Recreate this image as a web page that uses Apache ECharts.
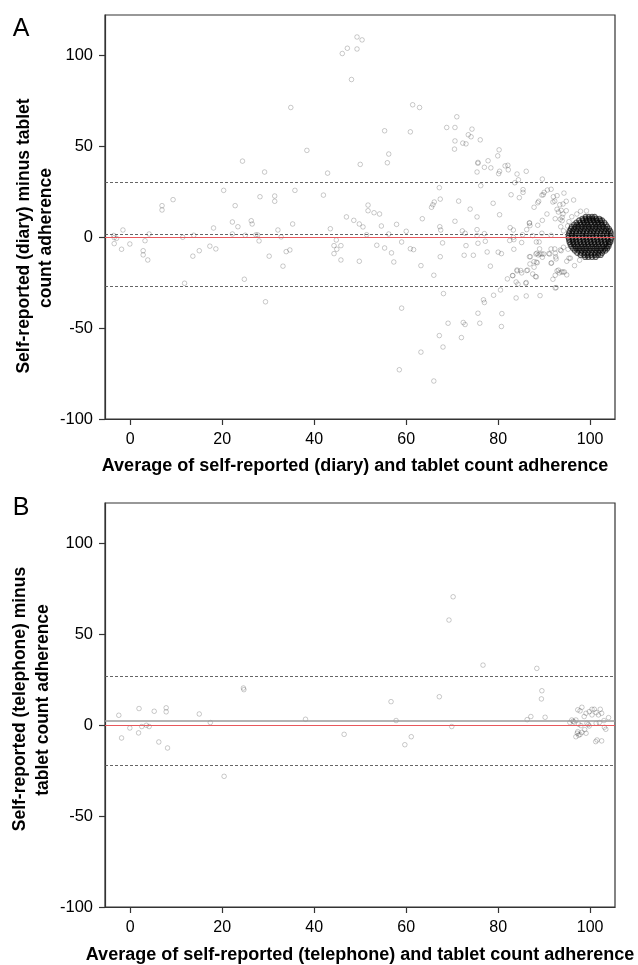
<!DOCTYPE html>
<html>
<head>
<meta charset="utf-8">
<script src="https://cdn.jsdelivr.net/npm/echarts@6/dist/echarts.min.js"></script>
<style>
html,body{margin:0;padding:0;background:#fff;}
#chart{width:638px;height:965px;}
</style>
</head>
<body>
<div id="chart"></div>
<script>
// ---------- DATA ----------
const xTicks = [0, 20, 40, 60, 80, 100];
const yTicks = [-100, -50, 0, 50, 100];

// Panel A: self-reported (diary) vs tablet count, scattered points [average, difference]
const diaryPoints = [
[-3.6,1.0],[-3.5,-0.2],[-1.6,4.0],[-3.5,-3.5],[-3.0,-0.6],[-1.9,-6.6],[-0.1,-3.7],[2.8,-7.4],[2.8,-9.7],[3.8,-12.5],
[3.2,-1.9],[4.1,1.8],[6.9,17.4],[6.9,15.0],[9.3,20.7],[11.4,0],[11.8,-25.3],[13.6,-10.4],[13.8,1.1],[15.0,-7.4],
[17.3,-4.9],[18.1,5.1],[18.6,-6.4],[20.3,25.8],[22.2,8.4],[22.2,1.8],[22.8,17.4],[23.4,5.8],[24.4,41.9],[24.8,-23.1],
[25.0,1.1],[26.3,9.1],[26.5,7.3],[27.3,1.3],[27.7,1.3],[28.0,-2.0],[28.2,22.3],[29.2,35.9],[29.4,-35.5],[30.2,-10.4],
[31.4,22.7],[31.4,19.8],[32.1,4.0],[32.8,0.2],[33.2,-15.9],[33.9,-7.9],[34.7,-7.0],[34.9,71.4],[35.3,7.3],[35.8,25.8],
[38.4,47.8],[42.0,23.2],[42.9,35.3],[43.5,4.7],[44.3,-4.6],[44.9,-6.6],[45.8,-4.6],[44.3,-9.0],[45.8,-12.5],[44.8,-1.5],
[46.1,101.1],[47.2,104.0],[49.3,103.6],[49.3,110.2],[50.4,108.6],[48.1,86.8],[47.0,11.2],[48.6,9.3],[49.8,7.3],[50.6,5.7],
[49.8,-13.2],[50.0,40.1],[51.4,1.4],[51.7,17.7],[51.7,14.6],[53.0,13.5],[54.2,12.8],[53.6,-4.4],[55.3,-5.9],[54.6,6.2],
[55.3,58.6],[55.9,41.0],[56.2,45.8],[56.2,1.8],[56.8,-8.6],[57.3,-13.6],[57.9,7.1],[58.5,-72.9],[59.0,-2.6],[59.0,-39.0],
[60.0,3.3],[60.9,58.0],[60.9,-6.3],[61.6,-6.8],[61.4,72.9],[62.9,71.4],[63.2,-15.6],[63.2,-63.2],[63.5,10.2],
[65.5,16.5],[65.8,17.9],[66.1,19.4],[66.0,-20.9],[66.0,-79.1],[67.2,27.3],[67.4,21.0],[67.3,5.8],[67.5,4.0],[67.9,-3.1],
[67.4,-10.7],[67.2,-54.1],[68.0,-60.4],[68.1,-31.0],[68.8,60.4],[69.1,-47.3],[70.5,48.5],[70.6,53.0],[70.6,60.4],[71.0,66.3],
[70.6,8.8],[71.4,19.9],[72.0,-55.2],[72.2,3.5],[72.8,2.2],[72.3,51.8],[73.0,51.4],[72.4,-46.9],[72.8,-48.0],[72.6,-9.9],
[73.0,-4.6],[73.5,56.4],[74.1,55.3],[74.3,59.5],[73.9,15.5],[74.6,-9.9],[75.4,35.9],[75.4,11.2],[75.4,4.2],[75.4,0.9],
[75.6,-3.3],[75.6,41.2],[75.6,40.7],[75.6,-41.8],[76.0,-47.3],[76.1,53.6],[76.2,28.4],[76.8,-34.4],[77.0,-35.9],[77.0,38.5],
[77.0,2.0],[77.2,-2.2],[77.6,-8.1],[77.8,42.1],[78.3,-15.9],[78.4,38.2],[78.9,18.7],[79.0,-31.9],[79.9,44.8],
[80.2,48.1],[80.3,36.3],[80.1,35.0],[80.3,12.4],[80.0,-8.2],[80.7,-9.0],[80.5,-29.0],[80.8,-42.0],[80.7,-49.1],[81.5,39.3],
[82.1,39.6],[82.2,37.1],[82.8,23.4],[82.6,5.3],[82.5,-1.8],[82.0,-22.9],[83.1,-21.1],[83.3,4.0],[83.3,0.0],[83.4,-1.3],
[83.4,-6.6],[83.6,30.0],[83.9,-24.6],[84.3,-25.8],[83.9,-33.4],[84.1,34.8],[84.1,-18.5],[84.9,-18.3],[85.1,-19.6],[84.4,31.6],
[84.6,21.8],[85.1,-2.9],[85.3,1.4],[85.4,26.2],[85.4,24.7],[86.1,36.3],[86.2,4.2],[86.2,-18.3],[86.1,-24.9],[86.1,-32.3],
[86.8,7.7],[86.9,6.4],[86.8,-10.7],[86.9,-14.7],[87.5,-20.2],[87.5,0.9],[87.8,16.5],[87.8,-16.5],[88.1,-21.6],[88.3,-21.8],
[88.3,-13.7],[88.5,-14.0],[88.2,-9.2],[88.7,-9.7],[89.1,-9.2],[88.3,-2.6],[88.9,-2.6],[89.0,-6.4],[88.6,6.6],[88.6,19.0],
[88.8,19.8],[89.1,-32.1],[89.5,23.2],[89.5,2.2],[89.6,32.0],[89.6,9.3],[89.6,-11.0],[89.9,-9.2],[90.0,24.7],[90.6,12.8],
[90.7,26.0],[91.0,-9.0],[91.5,26.4],[91.5,1.1],[91.5,-6.4],[91.5,-14.3],[91.9,19.4],[91.9,-23.1],[92.0,22.3],[92.3,-6.4],
[92.4,10.2],[92.4,-8.8],[92.5,-10.8],[92.4,-27.9],[92.4,-20.9],[92.8,15.4],[92.8,22.9],[92.8,-18.5],[93.1,13.9],[93.3,-19.6],
[93.4,17.9],[93.6,5.8],[93.7,-7.4],[93.8,-19.1],[93.9,9.1],[94.1,18.3],[94.1,12.8],[94.1,-19.1],[94.2,3.5],[94.2,-5.5],
[94.3,24.3],[94.8,19.8],[94.8,14.6],[94.9,-20.7],[94.9,-13.2],[95.1,6.2],[95.2,-6.6],[95.4,8.6],[95.4,-11.5],[95.7,-11.5],
[96.0,11.3],[96.4,20.5],[96.6,-15.6],[97.1,12.8],[97.7,-12.6],[97.9,14.3],[99.2,14.5],[86.8,8.0],[87.0,-10.7],[87.8,-13.4],
[84.1,-18.0],[88.4,-8.8],[89.5,-9.2],[91.2,-9.2],[91.6,-14.1],[92.6,-11.9],[93.5,-7.0],[86.4,-18.1],[86.0,-25.3],[93.1,-18.1],
[94.4,-19.1],[92.6,-27.7],[83.2,-21.1],[93.5,9.9],[93.9,11.0],[93.7,14.8],[89.8,23.4],[92.3,19.9]
];

// Panel A: the dense pile of points near (100, 0), per row [difference, averages...]
const diaryClusterRows = [
[11.2,[99.0,99.7,100.4,101.0]],
[10.2,[98.3,99.0,99.8,100.5,101.3,102.0]],
[9.3,[97.6,98.4,99.2,99.9,100.7,101.4,102.2,102.6]],
[8.1,[97.0,97.8,98.6,99.3,100.1,100.9,101.6,102.4,103.1]],
[7.0,[96.5,97.2,98.0,98.8,99.5,100.3,101.1,101.8,102.6,103.4]],
[5.8,[96.0,96.8,97.5,98.3,99.1,99.8,100.6,101.4,102.1,102.9,103.7]],
[4.6,[95.8,96.5,97.3,98.0,98.8,99.6,100.3,101.1,101.9,102.6,103.4,104.1]],
[3.4,[95.5,96.2,97.0,97.8,98.5,99.3,100.1,100.8,101.6,102.4,103.1,103.9,104.4]],
[2.2,[95.4,96.1,96.9,97.6,98.4,99.2,99.9,100.7,101.4,102.2,103.0,103.7,104.5]],
[1.0,[95.3,96.0,96.7,97.5,98.3,99.0,99.8,100.5,101.3,102.1,102.8,103.6,104.4]],
[-0.2,[95.3,96.1,96.8,97.6,98.4,99.1,99.9,100.6,101.4,102.2,102.9,103.7,104.6]],
[-1.4,[95.4,96.2,96.9,97.7,98.5,99.2,100.0,100.8,101.5,102.3,103.1,103.8,104.5]],
[-2.6,[95.5,96.3,97.0,97.8,98.6,99.4,100.1,100.9,101.7,102.4,103.2,104.0,104.4]],
[-3.8,[95.7,96.4,97.2,98.0,98.7,99.5,100.3,101.0,101.8,102.6,103.3,104.1]],
[-5.0,[95.9,96.7,97.4,98.2,99.0,99.7,100.5,101.3,102.0,102.8,103.6,104.0]],
[-6.2,[96.3,97.0,97.8,98.6,99.3,100.1,100.9,101.6,102.4,103.2,103.7]],
[-7.4,[96.7,97.5,98.2,99.0,99.8,100.5,101.3,102.1,102.8,103.3]],
[-8.6,[97.2,98.0,98.8,99.5,100.3,101.1,101.8,102.6]],
[-9.8,[97.9,98.7,99.4,100.2,101.0,101.7,102.3]],
[-10.9,[98.9,99.6,100.4,101.2]]
];

// Panel A limits: upper limit, mean difference, lower limit
const diaryLimits = [30.0, 1.6, -26.9];

// Panel B: self-reported (telephone) vs tablet count
const phonePoints = [
[-2.5,5.5],[-1.9,-7.0],[-0.1,-1.5],[1.9,9.2],[1.8,-4.2],[2.5,-0.7],[3.5,0],[4.1,-0.7],[5.2,7.7],[6.2,-9.2],
[7.8,9.6],[7.8,7.4],[8.1,-12.5],[15.0,6.2],[17.4,1.5],[20.4,-28.1],[24.6,20.5],[24.7,19.6],[38.1,3.3],[46.5,-5.0],
[56.7,13.0],[57.8,2.6],[59.7,-10.7],[61.1,-6.3],[67.2,15.7],[69.3,57.9],[70.2,70.7],[69.9,-0.7],[76.7,33.1],[86.3,3.1],
[87.1,4.8],[88.4,31.3],[89.5,19.0],[89.4,14.5],[90.2,4.4],
[95.6,1.5],[96.5,1.7],[96.9,2.9],[97.3,8.5],[97.8,7.9],[98.2,9.9],[98.7,4.8],[99.1,6.6],[99.8,7.5],[100.4,8.8],
[100.9,8.8],[101.3,7.0],[101.8,5.7],[102.2,8.8],[102.5,6.6],[103.0,2.6],[104.0,4.2],[102.0,1.5],[101.3,1.1],[99.3,1.1],
[99.6,0.4],[98.8,-2.4],[98.2,-3.9],[97.3,-3.5],[97.2,-4.4],[97.5,-5.5],[96.9,-6.3],[97.8,-5.1],[99.1,-4.4],[99.8,-0.4],
[103.1,-1.1],[103.4,-2.2],[102.5,-8.6],[101.2,-9.0],[101.5,-8.1],[100.4,5.7],[97.5,0.6],[98.0,-0.2],[96.3,2.2],[96.0,2.9]
];
const phoneLimits = [26.7, 2.4, -22.0];

const xRange = [-5.5, 105.4];
const yRange = [-100, 122.3];

// ---------- CHART ----------
const diaryCluster = [];
diaryClusterRows.forEach(r => r[1].forEach(x => diaryCluster.push([x, r[0]])));

const FONT = '"Liberation Sans", Arial, Helvetica, sans-serif';
const axisColor = '#333';

function xAxisCfg(gi) {
  return {
    gridIndex: gi, type: 'value', min: xRange[0], max: xRange[1],
    splitLine: {show: false},
    axisLine: {show: true, onZero: false, lineStyle: {color: axisColor, width: 1.2}},
    axisTick: {show: true, customValues: xTicks, length: 6, lineStyle: {color: axisColor, width: 1.2}},
    axisLabel: {customValues: xTicks, color: '#000', fontSize: 16, fontFamily: FONT, margin: 13}
  };
}
function yAxisCfg(gi) {
  return {
    gridIndex: gi, type: 'value', min: yRange[0], max: yRange[1],
    splitLine: {show: false},
    axisLine: {show: true, onZero: false, lineStyle: {color: axisColor, width: 1.2}},
    axisTick: {show: true, customValues: yTicks, length: 6, lineStyle: {color: axisColor, width: 1.2}},
    axisLabel: {customValues: yTicks, color: '#000', fontSize: 16.5, fontFamily: FONT, margin: 12}
  };
}
const pointStyle = {color: 'rgba(255,255,255,0)', borderColor: 'rgba(0,0,0,0.33)', borderWidth: 0.8};
const dashed = {type: [3, 2], color: '#555', width: 0.9};
const redLine = {type: 'solid', color: '#e8585c', width: 1};

function limitLines(lim, meanSolid) {
  return {
    silent: true, symbol: ['none', 'none'], animation: false,
    label: {show: false},
    data: [
      {yAxis: lim[0], lineStyle: dashed},
      {yAxis: lim[1], lineStyle: meanSolid ? {type: 'solid', color: '#9a9a9a', width: 1.6} : dashed},
      {yAxis: 0, lineStyle: redLine},
      {yAxis: lim[2], lineStyle: dashed}
    ]
  };
}

const chart = echarts.init(document.getElementById('chart'), null, {renderer: 'canvas'});
const yTitleFont = 'bold 17.5px ' + FONT;
const xTitleFont = 'bold 18px ' + FONT;
chart.setOption({
  animation: false,
  backgroundColor: '#fff',
  grid: [
    {left: 105, top: 15, width: 510, height: 404, show: true, borderColor: axisColor, borderWidth: 1.2, backgroundColor: 'transparent'},
    {left: 105, top: 503, width: 510, height: 404, show: true, borderColor: axisColor, borderWidth: 1.2, backgroundColor: 'transparent'}
  ],
  xAxis: [xAxisCfg(0), xAxisCfg(1)],
  yAxis: [yAxisCfg(0), yAxisCfg(1)],
  series: [
    {type: 'scatter', xAxisIndex: 0, yAxisIndex: 0, data: diaryPoints, symbol: 'circle', symbolSize: 4.6,
     itemStyle: pointStyle, markLine: limitLines(diaryLimits, false), z: 2},
    {type: 'scatter', xAxisIndex: 0, yAxisIndex: 0, data: diaryCluster, symbol: 'circle', symbolSize: 5,
     itemStyle: {color: 'rgba(0,0,0,0.18)', borderColor: 'rgba(0,0,0,0.72)', borderWidth: 1.1}, z: 3},
    {type: 'scatter', xAxisIndex: 1, yAxisIndex: 1, data: phonePoints, symbol: 'circle', symbolSize: 4.6,
     itemStyle: pointStyle, markLine: limitLines(phoneLimits, true), z: 2}
  ],
  graphic: [
    {type: 'text', x: 21, y: 29, style: {text: 'A', font: '25px ' + FONT, fill: '#000', align: 'center', verticalAlign: 'middle'}},
    {type: 'text', x: 21, y: 508, style: {text: 'B', font: '25px ' + FONT, fill: '#000', align: 'center', verticalAlign: 'middle'}},
    {type: 'text', x: 24, y: 236, rotation: Math.PI / 2, style: {text: 'Self-reported (diary) minus tablet', font: yTitleFont, fill: '#000', align: 'center', verticalAlign: 'middle'}},
    {type: 'text', x: 46, y: 238, rotation: Math.PI / 2, style: {text: 'count adherence', font: yTitleFont, fill: '#000', align: 'center', verticalAlign: 'middle'}},
    {type: 'text', x: 355, y: 466, style: {text: 'Average of self-reported (diary) and tablet count adherence', font: xTitleFont, fill: '#000', align: 'center', verticalAlign: 'middle'}},
    {type: 'text', x: 20, y: 699, rotation: Math.PI / 2, style: {text: 'Self-reported (telephone) minus', font: yTitleFont, fill: '#000', align: 'center', verticalAlign: 'middle'}},
    {type: 'text', x: 43, y: 700, rotation: Math.PI / 2, style: {text: 'tablet count adherence', font: yTitleFont, fill: '#000', align: 'center', verticalAlign: 'middle'}},
    {type: 'text', x: 360, y: 955, style: {text: 'Average of self-reported (telephone) and tablet count adherence', font: xTitleFont, fill: '#000', align: 'center', verticalAlign: 'middle'}}
  ]
});
</script>
</body>
</html>
